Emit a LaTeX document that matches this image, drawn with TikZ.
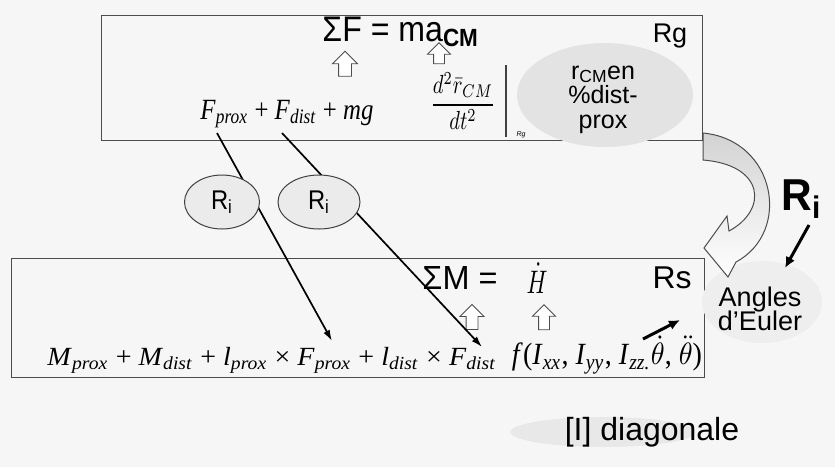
\documentclass[tikz,border=0pt]{standalone}
\usepackage{fontspec}
\setmainfont{Liberation Sans}
\newfontfamily\tms{Liberation Serif}
\usetikzlibrary{shapes.geometric,shapes.arrows,arrows.meta}
\newcommand{\fs}[1]{\fontsize{#1}{#1}\selectfont}
\newcommand{\fitbox}[3]{\resizebox*{#1}{#2}{#3}}
\newcommand{\vv}[2]{\textit{#1}\textsubscript{\textit{#2}}}
\begin{document}
\begin{tikzpicture}[x=1pt,y=-1pt,
  frame/.style={draw=black!70, line width=1.3pt, inner sep=0pt},
  blob/.style={ellipse, fill=gray!22, inner sep=0pt},
  riell/.style={ellipse, draw=black!75, line width=1pt, fill=gray!16, minimum height=54pt, inner sep=0pt},
  uparr/.style={single arrow, draw=black!70, line width=0.9pt, fill=white, shape border rotate=90,
     minimum height=25pt, single arrow head extend=6pt, single arrow head indent=0pt, inner sep=6pt},
  link/.style={-{Latex[length=11pt,width=7pt]}, line width=1.7pt},
  thick arrow/.style={-{Latex[length=11pt,width=10pt]}, line width=3pt},
  lbl/.style={inner sep=0pt}]
\fill[gray!7] (0,0) rectangle (835,467);
\useasboundingbox (0,0) rectangle (835,467);

% top box
\node[frame, anchor=north west, minimum width=601pt, minimum height=125pt] (topbox) at (101,15) {};
\node[lbl] (sumF) at (401,32) {\fitbox{157pt}{30pt}{ΣF = ma\textsubscript{\textbf{CM}}}};
\node[lbl, font=\fs{27}] (rg) at (670,36) {Rg};
\node[uparr] (up1) at (345,67) {};
\node[uparr, inner sep=5pt, single arrow head extend=6pt, minimum height=21pt] (up2) at (439,56) {};
\node[lbl] (Fsum) at (287,114) {\fitbox{173pt}{28pt}{\tms\vv{F}{prox} + \vv{F}{dist} + \textit{mg}}};
\coordinate (p1) at (217,133);
\coordinate (p2) at (282,133);
\node[lbl] (frac) at (463,101) {\fitbox{65pt}{57pt}{$\displaystyle\frac{d^2\bar r_{CM}}{dt^2}$}};
\coordinate (bar1) at (506,65);
\coordinate (bar2) at (506,137);
\draw[line width=1.2pt, black!75] (bar1) -- (bar2);
\node[lbl, font=\fs{7}\itshape] (rgsub) at (521,135) {Rg};
\node[blob, minimum width=176pt, minimum height=104pt] (rcm) at (605,95) {};
\node[lbl, align=center, font=\fs{25}, text depth=0pt] (rcmt) at (603,97) {r\textsubscript{CM}en\\[-0.5pt]\%dist-\\[-0.5pt]prox};

% bottom box
\node[frame, anchor=north west, minimum width=693pt, minimum height=119pt] (botbox) at (11,258) {};
\node[blob, fill=gray!13, minimum width=120pt, minimum height=82pt] (euler) at (762,302) {};
\node[lbl, align=center, font=\fs{27}] (eulert) at (760,309) {Angles\\[-3pt]d'Euler};
\node[lbl] (sumM) at (460,278) {\fitbox{75pt}{23pt}{ΣM =}};
\node[lbl] (Hdot) at (537,278) {\fitbox{21pt}{30pt}{$\dot H$}};
\node[lbl] (rs) at (672,278) {\fitbox{39pt}{22pt}{Rs}};
\node[uparr, inner sep=5.5pt] (up3) at (472,320) {};
\node[uparr, inner sep=5pt] (up4) at (544,320) {};
\node[lbl] (Msum) at (272,360) {\fitbox{449pt}{26pt}{\tms\vv{M}{prox} + \vv{M}{dist} + \vv{l}{prox} × \vv{F}{prox} + \vv{l}{dist} × \vv{F}{dist}}};
\node[lbl] (fI) at (607,355) {\fitbox{190pt}{38pt}{\tms\textit{f}(\vv{I}{xx}, \vv{I}{yy}, \vv{I}{zz.}$\dot\theta$, $\ddot\theta$)}};
\coordinate (q1) at (332,341);
\coordinate (q2) at (482,347);

% links
\draw[link] (p1) -- (q1);
\draw[link] (p2) -- (q2);
\node[riell, minimum width=75pt] (ri1) at (222,202) {\fitbox{22pt}{23pt}{R\textsubscript{i}}};
\node[riell, minimum width=82pt] (ri2) at (319,202) {\fitbox{22pt}{23pt}{R\textsubscript{i}}};

% curved block arrow
\path[draw=black!70, line width=1pt, top color=gray!35, bottom color=white]
  (703,133) .. controls (776,140) and (792,232) .. (736,262)
  -- (728,277) -- (704,248) -- (727,216) -- (729,231)
  .. controls (768,210) and (765,165) .. (703,160) -- cycle;
\node[lbl] (bigRi) at (802,199) {\fitbox{41pt}{38pt}{\bfseries R\textsubscript{i}}};
\coordinate (ba1) at (809,225);
\coordinate (ba2) at (785,268);
\draw[thick arrow] (ba1) -- (ba2);
\coordinate (sa1) at (643,339);
\coordinate (sa2) at (680,320);
\draw[thick arrow] (sa1) -- (sa2);

% diagonale
\node[blob, fill=gray!18, minimum width=185pt, minimum height=30pt] (diagb) at (603,432) {};
\node[lbl, font=\fs{32}] (diag) at (652,432) {[I] diagonale};
\end{tikzpicture}
\end{document}
